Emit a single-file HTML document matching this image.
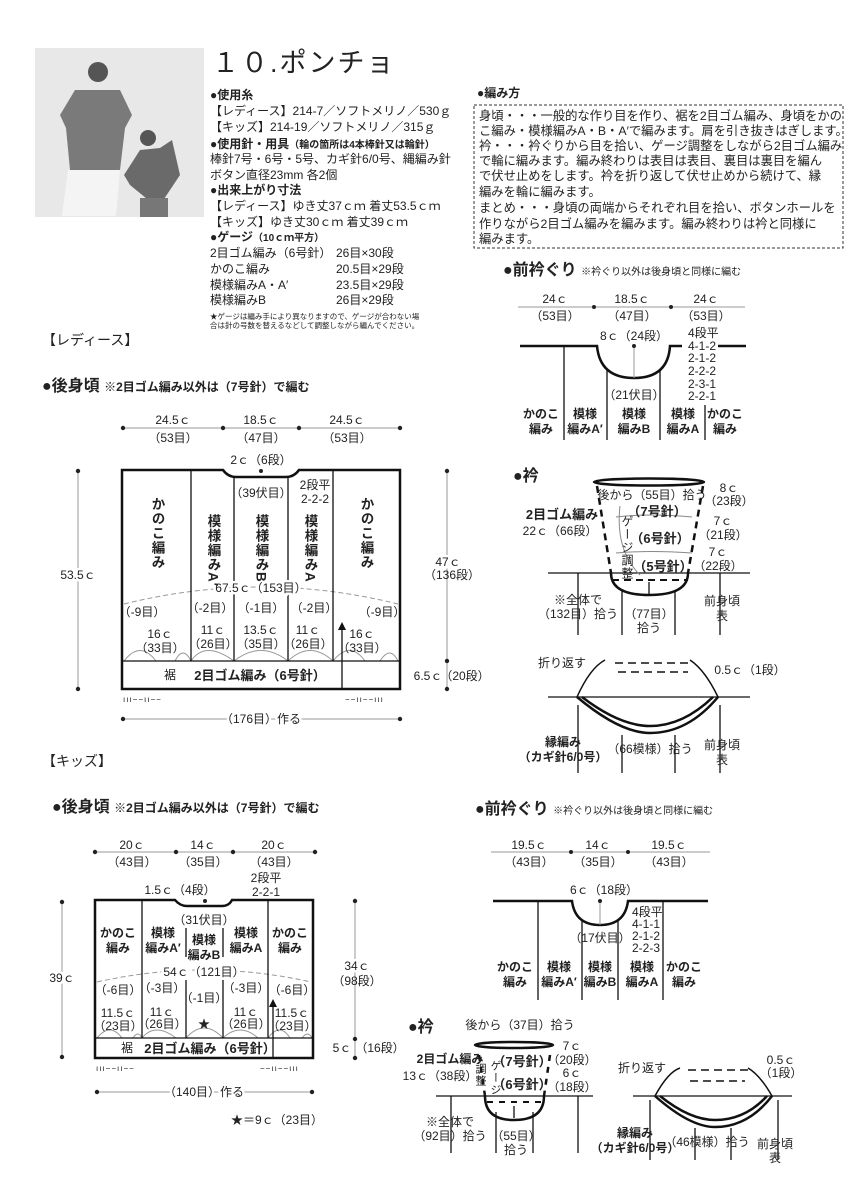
<!DOCTYPE html>
<html><head><meta charset="utf-8"><style>
html,body{margin:0;padding:0;background:#fff}
svg{display:block}
text{font-family:"Liberation Sans","Noto Sans CJK JP",sans-serif;fill:#222}
.s{font-size:11px}.m{font-size:12px}.b{font-weight:bold}
.c{text-anchor:middle}
.v{writing-mode:tb;glyph-orientation-vertical:0;letter-spacing:1px}
</style></head><body>
<svg width="858" height="1200" viewBox="0 0 858 1200" xmlns="http://www.w3.org/2000/svg">
<!-- photo -->
<rect x="35" y="48" width="169" height="169" fill="#e8e8e8"/>
<circle cx="98" cy="72" r="10" fill="#555"/>
<path d="M60 115 L75 90 L120 90 L132 115 L125 128 L120 170 L70 170 L66 128 Z" fill="#7a7a7a"/>
<path d="M68 170 L120 170 L116 216 L62 216 Z" fill="#f4f4f4"/>
<circle cx="148" cy="138" r="8" fill="#555"/>
<path d="M124 175 L140 150 L160 148 L172 140 L180 175 L158 208 L130 185 Z" fill="#6a6a6a"/>
<rect x="140" y="198" width="28" height="19" fill="#777"/>
<!-- title -->
<text x="212" y="72" style="font-size:27px;letter-spacing:2px">１０.ポンチョ</text>
<g class="m">
<text x="210" y="99" class="b">●使用糸</text>
<text x="210" y="115">【レディース】214-7／ソフトメリノ／530ｇ</text>
<text x="210" y="131">【キッズ】214-19／ソフトメリノ／315ｇ</text>
<text x="210" y="148" class="b">●使用針・用具<tspan style="font-size:10px">（輪の箇所は4本棒針又は輪針）</tspan></text>
<text x="210" y="163">棒針7号・6号・5号、カギ針6/0号、縄編み針</text>
<text x="210" y="179">ボタン直径23mm 各2個</text>
<text x="210" y="194" class="b">●出来上がり寸法</text>
<text x="210" y="210">【レディース】ゆき丈37ｃｍ 着丈53.5ｃｍ</text>
<text x="210" y="226">【キッズ】ゆき丈30ｃｍ 着丈39ｃｍ</text>
<text x="210" y="241" class="b">●ゲージ<tspan style="font-size:10px">（10ｃｍ平方）</tspan></text>
<text x="210" y="257">2目ゴム編み（6号針）</text><text x="336" y="257">26目×30段</text>
<text x="210" y="273">かのこ編み</text><text x="336" y="273">20.5目×29段</text>
<text x="210" y="289">模様編みA・A′</text><text x="336" y="289">23.5目×29段</text>
<text x="210" y="304">模様編みB</text><text x="336" y="304">26目×29段</text>
</g>
<text x="210" y="319" style="font-size:7.5px">★ゲージは編み手により異なりますので、ゲージが合わない場</text>
<text x="210" y="328" style="font-size:7.5px">合は針の号数を替えるなどして調整しながら編んでください。</text>
<!-- how to -->
<text x="477" y="97" class="m b">●編み方</text>
<rect x="474" y="105" width="369" height="143" fill="none" stroke="#333" stroke-dasharray="3,2"/>
<g style="font-size:12.3px">
<text x="479" y="120">身頃・・・一般的な作り目を作り、裾を2目ゴム編み、身頃をかの</text>
<text x="479" y="135">こ編み・模様編みA・B・A′で編みます。肩を引き抜きはぎします。</text>
<text x="479" y="150">衿・・・衿ぐりから目を拾い、ゲージ調整をしながら2目ゴム編み</text>
<text x="479" y="165">で輪に編みます。編み終わりは表目は表目、裏目は裏目を編ん</text>
<text x="479" y="180">で伏せ止めをします。衿を折り返して伏せ止めから続けて、縁</text>
<text x="479" y="196">編みを輪に編みます。</text>
<text x="479" y="212">まとめ・・・身頃の両端からそれぞれ目を拾い、ボタンホールを</text>
<text x="479" y="228">作りながら2目ゴム編みを編みます。編み終わりは衿と同様に</text>
<text x="479" y="243">編みます。</text>
</g>
<text x="42" y="345" style="font-size:14px">【レディース】</text>
<text x="42" y="391" style="font-size:16px" class="b">●後身頃 <tspan style="font-size:12px">※2目ゴム編み以外は（7号針）で編む</tspan></text>

<!-- ladies back -->
<g stroke="#999" stroke-width="1" fill="none">
<line x1="123" y1="428" x2="400" y2="428"/>
<line x1="78" y1="471" x2="78" y2="689"/>
<line x1="447" y1="471" x2="447" y2="689"/>
<line x1="123" y1="719" x2="400" y2="719"/>
<path d="M124 604 Q261 570 398 604" stroke-dasharray="5,3"/>
<path d="M124 661 Q140 640 156 661 M175 661 Q183 645 191 661 M191 661 Q205 640 234 661 M234 661 Q261 640 288 661 M288 661 Q310 640 333 661 M333 661 Q350 640 365 661 M380 661 Q390 645 398 661"/>
</g>
<g fill="#222"><circle cx="123" cy="428" r="2.2"/><circle cx="223" cy="428" r="2.2"/><circle cx="299" cy="428" r="2.2"/><circle cx="400" cy="428" r="2.2"/>
<circle cx="78" cy="471" r="2.2"/><circle cx="78" cy="689" r="2.2"/><circle cx="447" cy="471" r="2.2"/><circle cx="447" cy="661" r="2.2"/><circle cx="447" cy="689" r="2.2"/><circle cx="123" cy="719" r="2.2"/><circle cx="400" cy="719" r="2.2"/><circle cx="261" cy="471" r="2"/></g>
<path d="M122 689 L122 470 L223 470 Q228 477 236 477 L286 477 Q294 477 299 470 L400 470 L400 689 Z" fill="none" stroke="#111" stroke-width="2.5"/>
<g stroke="#111" stroke-width="1.3">
<line x1="191" y1="470" x2="191" y2="661"/><line x1="234" y1="477" x2="234" y2="661"/><line x1="288" y1="477" x2="288" y2="661"/><line x1="333" y1="470" x2="333" y2="661"/>
<line x1="122" y1="661" x2="400" y2="661"/><line x1="342" y1="661" x2="342" y2="689"/><line x1="342" y1="661" x2="342" y2="626"/>
</g>
<path d="M342 622 L338 630 L346 630 Z" fill="#111"/>
<g class="m c">
<text x="173" y="424">24.5ｃ</text><text x="173" y="442">（53目）</text>
<text x="261" y="424">18.5ｃ</text><text x="261" y="442">（47目）</text>
<text x="347" y="424">24.5ｃ</text><text x="347" y="442">（53目）</text>
<text x="261" y="464">2ｃ（6段）</text><text x="261" y="497">（39伏目）</text>
<text x="315" y="489">2段平</text><text x="315" y="503">2-2-2</text>
<text x="78" y="579" style="fill:#222;stroke:#fff;stroke-width:5;paint-order:stroke">53.5ｃ</text>
<text x="448" y="566" style="stroke:#fff;stroke-width:5;paint-order:stroke">47ｃ</text><text x="452" y="579">（136段）</text>
<text x="428" y="680">6.5ｃ</text><text x="465" y="680">（20段）</text>
<text x="261" y="592" style="stroke:#fff;stroke-width:5;paint-order:stroke">67.5ｃ（153目）</text>
<text x="142" y="616">（-9目）</text><text x="160" y="638">16ｃ</text><text x="160" y="652">（33目）</text>
<text x="210" y="612">（-2目）</text><text x="213" y="634">11ｃ</text><text x="213" y="648">（26目）</text>
<text x="261" y="612">（-1目）</text><text x="261" y="634">13.5ｃ</text><text x="261" y="648">（35目）</text>
<text x="314" y="612">（-2目）</text><text x="308" y="634">11ｃ</text><text x="308" y="648">（26目）</text>
<text x="382" y="616">（-9目）</text><text x="362" y="638">16ｃ</text><text x="362" y="652">（33目）</text>
<text x="170" y="679">裾</text><text x="260" y="680" class="b" style="font-size:13px">2目ゴム編み（6号針）</text>
<text x="261" y="723" style="stroke:#fff;stroke-width:5;paint-order:stroke">（176目）作る</text>
</g>
<g class="b" style="font-size:13.5px">
<text x="157" y="497" class="v">かのこ編み</text>
<text x="213" y="514" class="v">模様編みA′</text>
<text x="261" y="514" class="v">模様編みB</text>
<text x="310" y="514" class="v">模様編みA</text>
<text x="366" y="497" class="v">かのこ編み</text>
</g>
<text x="123" y="702" style="font-size:8px;letter-spacing:1px">ııı−−ıı−−</text>
<text x="345" y="702" style="font-size:8px;letter-spacing:1px">−−ıı−−ııı</text>

<!-- ladies front neck -->
<text x="503" y="275" style="font-size:16px" class="b">●前衿ぐり <tspan style="font-size:10px;font-weight:normal">※衿ぐり以外は後身頃と同様に編む</tspan></text>
<line x1="518" y1="307" x2="745" y2="307" stroke="#999"/>
<circle cx="594" cy="307" r="2" fill="#222"/><circle cx="671" cy="307" r="2" fill="#222"/>
<g class="m c"><text x="555" y="303">24ｃ</text><text x="555" y="320">（53目）</text>
<text x="632" y="303">18.5ｃ</text><text x="632" y="320">（47目）</text>
<text x="706" y="303">24ｃ</text><text x="706" y="320">（53目）</text>
<text x="634" y="340">8ｃ（24段）</text><text x="634" y="399">（21伏目）</text></g>
<g class="m"><text x="688" y="337">4段平</text><text x="688" y="350">4-1-2</text><text x="688" y="362">2-1-2</text><text x="688" y="375">2-2-2</text><text x="688" y="388">2-3-1</text><text x="688" y="400">2-2-1</text></g>
<path d="M520 346 L597 346 Q600 378 634 378 Q668 378 670 346 L682 346 M718 346 L746 346" fill="none" stroke="#111" stroke-width="2.5"/>
<g stroke="#111" stroke-width="1.3"><line x1="564" y1="346" x2="564" y2="440"/><line x1="607" y1="370" x2="607" y2="440"/><line x1="660" y1="370" x2="660" y2="440"/><line x1="705" y1="405" x2="705" y2="440"/></g>
<line x1="634" y1="346" x2="634" y2="378" stroke="#999"/><circle cx="634" cy="346" r="2" fill="#222"/>
<g class="m c b"><text x="541" y="418">かのこ</text><text x="541" y="433">編み</text>
<text x="585" y="418">模様</text><text x="585" y="433">編みA′</text>
<text x="634" y="418">模様</text><text x="634" y="433">編みB</text>
<text x="683" y="418">模様</text><text x="683" y="433">編みA</text>
<text x="725" y="418">かのこ</text><text x="725" y="433">編み</text></g>

<!-- ladies collar -->
<text x="513" y="481" style="font-size:16px" class="b">●衿</text>
<ellipse cx="649" cy="482" rx="55" ry="3.5" fill="none" stroke="#111" stroke-width="2.5"/>
<g stroke="#111" stroke-width="2.5" stroke-dasharray="7,5"><line x1="597" y1="486" x2="611" y2="573"/><line x1="703" y1="486" x2="688" y2="573"/><line x1="612" y1="580" x2="688" y2="580" stroke-width="2"/></g>
<line x1="548" y1="573" x2="750" y2="573" stroke="#111" stroke-width="1.3"/>
<path d="M611 573 Q611 595 649 595 Q688 595 688 573" fill="none" stroke="#111" stroke-width="2.5"/>
<g stroke="#111" stroke-width="1.3"><line x1="578" y1="573" x2="578" y2="635"/><line x1="622" y1="590" x2="622" y2="635"/><line x1="675" y1="590" x2="675" y2="635"/><line x1="720" y1="573" x2="720" y2="635"/>
<line x1="649" y1="595" x2="649" y2="582"/></g>
<g stroke="#888" fill="none"><path d="M616 517 Q650 513 692 517"/><path d="M616 553 Q650 550 692 553"/><path d="M620 506 Q615 550 640 575"/></g>
<g class="m c"><text x="652" y="499">後から（55目）拾う</text><text x="657" y="516" class="b" style="font-size:13px">（7号針）</text>
<text x="562" y="519" class="b" style="font-size:13px">2目ゴム編み</text><text x="560" y="535">22ｃ（66段）</text>
<text x="660" y="543" class="b" style="font-size:13px">（6号針）</text><text x="663" y="571" class="b" style="font-size:13px">（5号針）</text>
<text x="729" y="492">8ｃ</text><text x="729" y="505">（23段）</text><text x="723" y="525">7ｃ</text><text x="723" y="539">（21段）</text><text x="718" y="556">7ｃ</text><text x="718" y="570">（22段）</text>
<text x="578" y="604">※全体で</text><text x="578" y="618">（132目）拾う</text>
<text x="649" y="618">（77目）</text><text x="649" y="632">拾う</text>
<text x="722" y="605">前身頃</text><text x="722" y="620">表</text></g>
<text x="627" y="515" class="m v">ゲージ調整</text>
<!-- ladies fold -->
<line x1="548" y1="697" x2="750" y2="697" stroke="#111" stroke-width="1.3"/>
<path d="M577 697 Q590 668 605 660 M690 660 Q705 670 718 697" fill="none" stroke="#111" stroke-width="1.5"/>
<path d="M615 663 L690 663 M618 672 L688 672" stroke="#111" stroke-width="1.5" stroke-dasharray="8,5"/>
<path d="M577 697 Q620 733 650 733 Q688 733 718 697 M582 697 Q620 726 650 726 Q683 726 713 697" fill="none" stroke="#111" stroke-width="2.5"/>
<g stroke="#111" stroke-width="1.3"><line x1="578" y1="705" x2="578" y2="773"/><line x1="622" y1="735" x2="622" y2="773"/><line x1="675" y1="735" x2="675" y2="773"/><line x1="720" y1="705" x2="720" y2="773"/></g>
<g class="m c"><text x="562" y="667">折り返す</text><text x="750" y="674">0.5ｃ（1段）</text>
<text x="563" y="746" class="b">縁編み</text><text x="563" y="761" class="b">（カギ針6/0号）</text>
<text x="650" y="753">（66模様）拾う</text><text x="722" y="749">前身頃</text><text x="722" y="764">表</text></g>

<text x="42" y="766" style="font-size:14px">【キッズ】</text>
<text x="52" y="812" style="font-size:16px" class="b">●後身頃 <tspan style="font-size:12px">※2目ゴム編み以外は（7号針）で編む</tspan></text>

<!-- kids back -->
<g stroke="#999" fill="none"><line x1="95" y1="852" x2="315" y2="852"/><line x1="62" y1="902" x2="62" y2="1057"/><line x1="355" y1="901" x2="355" y2="1058"/><line x1="97" y1="1092" x2="312" y2="1092"/>
<path d="M97 982 Q204 958 311 982" stroke-dasharray="5,3"/>
<path d="M97 1038 Q110 1022 122 1038 M133 1038 Q138 1030 142 1038 M142 1038 Q155 1022 176 1038 M186 1038 Q204 1018 223 1038 M223 1038 Q240 1022 258 1038 M268 1038 Q280 1022 290 1038 M302 1038 Q308 1030 312 1038"/></g>
<g fill="#222"><circle cx="95" cy="852" r="2.2"/><circle cx="176" cy="852" r="2.2"/><circle cx="233" cy="852" r="2.2"/><circle cx="315" cy="852" r="2.2"/><circle cx="62" cy="902" r="2.2"/><circle cx="62" cy="1057" r="2.2"/><circle cx="355" cy="901" r="2.2"/><circle cx="355" cy="1039" r="2.2"/><circle cx="355" cy="1058" r="2.2"/><circle cx="97" cy="1092" r="2.2"/><circle cx="312" cy="1092" r="2.2"/><circle cx="205" cy="901" r="2"/></g>
<path d="M95 1058 L95 900 L175 900 Q180 906 187 906 L222 906 Q229 906 232 900 L313 900 L313 1058 Z" fill="none" stroke="#111" stroke-width="2.5"/>
<g stroke="#111" stroke-width="1.3"><line x1="142" y1="900" x2="142" y2="1038"/><line x1="186" y1="928" x2="186" y2="957"/><line x1="186" y1="980" x2="186" y2="1038"/><line x1="223" y1="928" x2="223" y2="957"/><line x1="223" y1="980" x2="223" y2="1038"/><line x1="268" y1="900" x2="268" y2="1038"/>
<line x1="95" y1="1038" x2="313" y2="1038"/><line x1="273" y1="1038" x2="273" y2="1058"/><line x1="273" y1="1038" x2="273" y2="1003"/></g>
<path d="M273 999 L269 1007 L277 1007 Z" fill="#111"/>
<g class="m c"><text x="132" y="849">20ｃ</text><text x="132" y="866">（43目）</text><text x="203" y="849">14ｃ</text><text x="203" y="866">（35目）</text><text x="274" y="849">20ｃ</text><text x="274" y="866">（43目）</text>
<text x="266" y="882">2段平</text><text x="266" y="896">2-2-1</text><text x="180" y="894">1.5ｃ（4段）</text><text x="204" y="924">（31伏目）</text>
<text x="62" y="982" style="stroke:#fff;stroke-width:5;paint-order:stroke">39ｃ</text><text x="357" y="970" style="stroke:#fff;stroke-width:5;paint-order:stroke">34ｃ</text><text x="357" y="985">（98段）</text>
<text x="342" y="1052">5ｃ</text><text x="380" y="1052">（16段）</text>
<text x="204" y="976" style="stroke:#fff;stroke-width:5;paint-order:stroke">54ｃ（121目）</text>
<text x="118" y="994">（-6目）</text><text x="118" y="1017">11.5ｃ</text><text x="118" y="1030">（23目）</text>
<text x="162" y="992">（-3目）</text><text x="162" y="1016">11ｃ</text><text x="162" y="1028">（26目）</text>
<text x="204" y="1002">（-1目）</text><text x="204" y="1028">★</text>
<text x="246" y="992">（-3目）</text><text x="246" y="1016">11ｃ</text><text x="246" y="1028">（26目）</text>
<text x="292" y="994">（-6目）</text><text x="292" y="1017">11.5ｃ</text><text x="292" y="1030">（23目）</text>
<text x="127" y="1052">裾</text><text x="210" y="1053" class="b" style="font-size:13px">2目ゴム編み（6号針）</text>
<text x="204" y="1096" style="stroke:#fff;stroke-width:5;paint-order:stroke">（140目）作る</text>
<text x="277" y="1124">★＝9ｃ（23目）</text></g>
<g class="m c b"><text x="118" y="937">かのこ</text><text x="118" y="952">編み</text><text x="163" y="937">模様</text><text x="163" y="952">編みA′</text>
<text x="204" y="944">模様</text><text x="204" y="959">編みB</text><text x="246" y="937">模様</text><text x="246" y="952">編みA</text><text x="290" y="937">かのこ</text><text x="290" y="952">編み</text></g>
<text x="96" y="1071" style="font-size:8px;letter-spacing:1px">ııı−−ıı−−</text>
<text x="260" y="1071" style="font-size:8px;letter-spacing:1px">−−ıı−−ııı</text>

<!-- kids front neck -->
<text x="475" y="814" style="font-size:16px" class="b">●前衿ぐり <tspan style="font-size:10px;font-weight:normal">※衿ぐり以外は後身頃と同様に編む</tspan></text>
<line x1="491" y1="852" x2="710" y2="852" stroke="#999"/><circle cx="571" cy="852" r="2" fill="#222"/><circle cx="628" cy="852" r="2" fill="#222"/>
<g class="m c"><text x="529" y="849">19.5ｃ</text><text x="529" y="866">（43目）</text><text x="598" y="849">14ｃ</text><text x="598" y="866">（35目）</text><text x="669" y="849">19.5ｃ</text><text x="669" y="866">（43目）</text>
<text x="604" y="894">6ｃ（18段）</text><text x="600" y="942">（17伏目）</text></g>
<g class="m"><text x="632" y="916">4段平</text><text x="632" y="928">4-1-1</text><text x="632" y="940">2-1-2</text><text x="632" y="952">2-2-3</text></g>
<path d="M493 901 L572 901 Q575 925 600 925 Q625 925 628 901 L708 901" fill="none" stroke="#111" stroke-width="2.5"/>
<g stroke="#111" stroke-width="1.3"><line x1="538" y1="901" x2="538" y2="1000"/><line x1="582" y1="920" x2="582" y2="1000"/><line x1="618" y1="920" x2="618" y2="1000"/><line x1="663" y1="901" x2="663" y2="1000"/></g>
<line x1="600" y1="901" x2="600" y2="925" stroke="#999"/><circle cx="600" cy="901" r="2" fill="#222"/>
<g class="m c b"><text x="515" y="971">かのこ</text><text x="515" y="986">編み</text><text x="559" y="971">模様</text><text x="559" y="986">編みA′</text>
<text x="600" y="971">模様</text><text x="600" y="986">編みB</text><text x="642" y="971">模様</text><text x="642" y="986">編みA</text><text x="684" y="971">かのこ</text><text x="684" y="986">編み</text></g>

<!-- kids collar -->
<text x="408" y="1032" style="font-size:16px" class="b">●衿</text>
<ellipse cx="514" cy="1045" rx="39" ry="3" fill="none" stroke="#111" stroke-width="2.5"/>
<g stroke="#111" stroke-width="2.5" stroke-dasharray="6,6"><line x1="479" y1="1055" x2="485" y2="1096"/><line x1="550" y1="1055" x2="544" y2="1096"/><line x1="487" y1="1102" x2="543" y2="1102" stroke-width="2"/></g>
<line x1="436" y1="1096" x2="593" y2="1096" stroke="#111" stroke-width="1.3"/>
<path d="M485 1096 Q485 1120 514 1120 Q544 1120 544 1096" fill="none" stroke="#111" stroke-width="2.5"/>
<g stroke="#111" stroke-width="1.3"><line x1="451" y1="1096" x2="451" y2="1153"/><line x1="496" y1="1112" x2="496" y2="1153"/><line x1="533" y1="1112" x2="533" y2="1153"/><line x1="578" y1="1096" x2="578" y2="1153"/><line x1="514" y1="1118" x2="514" y2="1106"/></g>
<g class="m c"><text x="520" y="1029">後から（37目）拾う</text>
<text x="450" y="1063" class="b">2目ゴム編み</text><text x="440" y="1080">13ｃ（38段）</text>
<text x="522" y="1066" class="b" style="font-size:13px">（7号針）</text><text x="522" y="1089" class="b" style="font-size:13px">（6号針）</text>
<text x="572" y="1050">7ｃ</text><text x="572" y="1064">（20段）</text><text x="572" y="1077">6ｃ</text><text x="572" y="1091">（18段）</text>
<text x="450" y="1126">※全体で</text><text x="450" y="1140">（92目）拾う</text><text x="516" y="1140">（55目）</text><text x="516" y="1154">拾う</text></g>
<text x="480" y="1063" class="s v">調整</text><text x="495" y="1060" class="s v">ゲージ</text>
<!-- kids fold -->
<line x1="633" y1="1096" x2="792" y2="1096" stroke="#111" stroke-width="1.3"/>
<path d="M655 1096 Q668 1072 680 1068 M748 1068 Q760 1075 772 1096" fill="none" stroke="#111" stroke-width="1.5"/>
<path d="M688 1070 L748 1070 M690 1081 L745 1081" stroke="#111" stroke-width="1.5" stroke-dasharray="8,5"/>
<path d="M655 1096 Q690 1127 715 1127 Q748 1127 772 1096 M660 1096 Q690 1120 715 1120 Q745 1120 767 1096" fill="none" stroke="#111" stroke-width="2.5"/>
<g stroke="#111" stroke-width="1.3"><line x1="650" y1="1100" x2="650" y2="1160"/><line x1="695" y1="1128" x2="695" y2="1160"/><line x1="731" y1="1128" x2="731" y2="1160"/><line x1="778" y1="1100" x2="778" y2="1160"/></g>
<g class="m c"><text x="642" y="1072">折り返す</text><text x="781" y="1064">0.5ｃ</text><text x="781" y="1077">（1段）</text>
<text x="635" y="1137" class="b">縁編み</text><text x="635" y="1152" class="b">（カギ針6/0号）</text>
<text x="707" y="1146">（46模様）拾う</text><text x="775" y="1148">前身頃</text><text x="775" y="1162">表</text></g>
</svg>
</body></html>
